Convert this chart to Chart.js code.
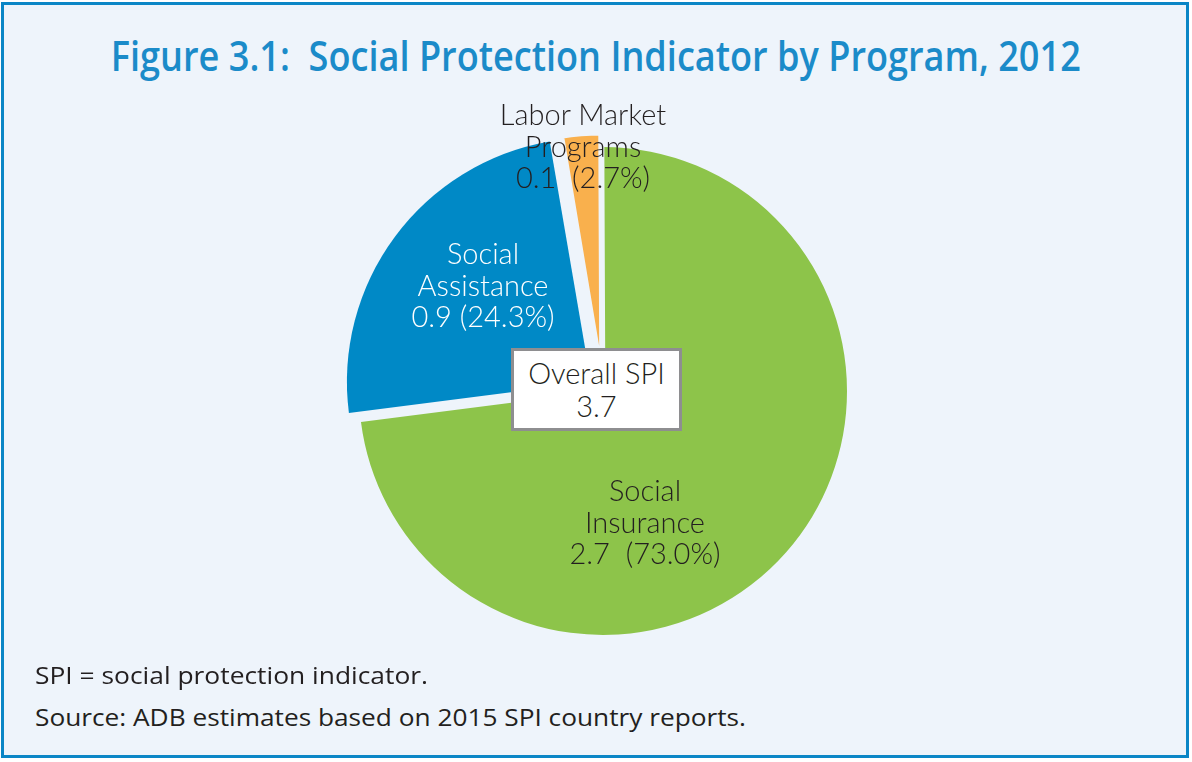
<!DOCTYPE html>
<html>
<head>
<meta charset="utf-8">
<script src="https://cdn.jsdelivr.net/npm/chart.js@4/dist/chart.umd.min.js"></script>
<style>
    body { margin: 0; width: 1192px; height: 762px; background: #ffffff; position: relative; overflow: hidden; }
    #frame { position: absolute; left: 1px; top: 2px; width: 1182px; height: 750px; border: 3px solid #0b86c6; background: #eef4fb; }
    #chartPie { position: absolute; left: 303px; top: 91px; }
    .txt { position: absolute; white-space: pre; color: #231f20; }
    #titulo { left: 0; width: 1192px; top: 27px; text-align: center; font-family: 'Open Sans', sans-serif; font-weight: 600; font-size: 41px; line-height: 56px; color: #1b8bc9; }
    #titulo span, .nota span { display: inline-block; transform-origin: 0 50%; }
    #titulo span { transform-origin: 50% 50%; }
    .nota { left: 35px; font-family: 'Open Sans', sans-serif; font-size: 24px; line-height: 32px; }
    .etiqueta { width: 300px; text-align: center; font-family: 'Lato', sans-serif; font-weight: 300; font-size: 29px; line-height: 31.5px; }
    #cajaSPI { position: absolute; left: 511px; top: 348px; width: 165px; height: 72px; background: #ffffff; border: 3px solid #8e8e90; text-align: center; font-family: 'Lato', sans-serif; font-weight: 300; font-size: 29px; line-height: 33px; color: #231f20; padding-top: 5px; }
</style>
</head>
<body>
<div id="frame"></div>
<div id="titulo" class="txt"><span data-fit="970">Figure 3.1:  Social Protection Indicator by Program, 2012</span></div>
<canvas id="chartPie" width="600" height="600"></canvas>
<div id="etiquetas"></div>
<div id="cajaSPI"></div>
<div class="txt nota" style="top: 659px;"><span data-fit="393">SPI = social protection indicator.</span></div>
<div class="txt nota" style="top: 701px;"><span data-fit="711">Source: ADB estimates based on 2015 SPI country reports.</span></div>

<script>
// datos del grafico (SPI por programa, 2012)
const categorias = ['Social Insurance', 'Social Assistance', 'Labor Market Programs'];
const lineasNombre = [['Social', 'Insurance'], ['Social', 'Assistance'], ['Labor Market', 'Programs']];
const valores = [2.7, 0.9, 0.1];
const colores = ['#8dc44a', '#0089c6', '#f9b04d'];

const FONDO = '#eef4fb';

// posicion de cada etiqueta (centro x, top y) y color del texto
const posEtiquetas = [
    { x: 645, y: 474, color: '#231f20', sep: '  ' },
    { x: 483, y: 237, color: '#ffffff', sep: ' ' },
    { x: 583, y: 98, color: '#231f20', sep: '  ' }
];

const total = valores.reduce((a, b) => a + b, 0);

function formatPct(v) {
    return (v / total * 100).toFixed(1) + '%';
}

function dibujarEtiquetas() {
    const cont = document.getElementById('etiquetas');
    cont.innerHTML = categorias.map((c, i) => {
        const p = posEtiquetas[i];
        const lineas = lineasNombre[i].concat([valores[i].toFixed(1) + p.sep + '(' + formatPct(valores[i]) + ')']);
        return `<div class="txt etiqueta" style="left:${p.x - 150}px; top:${p.y}px; color:${p.color};">${lineas.join('\n')}</div>`;
    }).join('');

    document.getElementById('cajaSPI').innerHTML = 'Overall SPI<br>' + total.toFixed(1);
}

function ajustarAncho() {
    document.querySelectorAll('[data-fit]').forEach(el => {
        el.style.transform = 'none';
        const w = el.getBoundingClientRect().width;
        const objetivo = parseFloat(el.dataset.fit);
        if (w > 0) el.style.transform = `scaleX(${objetivo / w})`;
    });
}

const ctx = document.getElementById('chartPie').getContext('2d');
const chart = new Chart(ctx, {
    type: 'pie',
    data: {
        labels: categorias,
        datasets: [{
            data: valores,
            backgroundColor: colores,
            borderColor: FONDO,
            borderWidth: [0, 0, 6],
            offset: [0, 60, 32],
            radius: 244
        }]
    },
    options: {
        responsive: false,
        animation: false,
        events: [],
        layout: { padding: 0 },
        plugins: {
            legend: { display: false },
            tooltip: { enabled: false }
        }
    }
});

dibujarEtiquetas();
ajustarAncho();
if (document.fonts && document.fonts.ready) document.fonts.ready.then(ajustarAncho);
</script>
</body>
</html>
